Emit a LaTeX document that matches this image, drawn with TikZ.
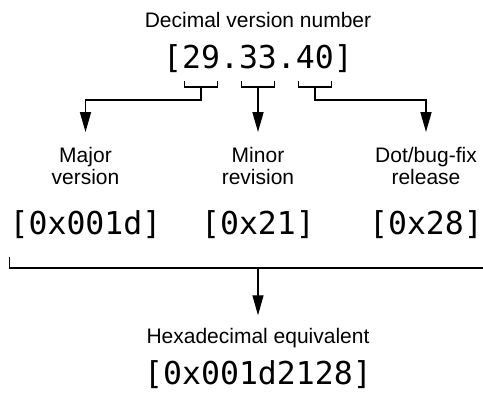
\documentclass[tikz,border=0pt]{standalone}
\usepackage{fontspec}
\setmainfont{Liberation Sans}
\newfontfamily\codefont{DejaVu Sans Mono}
\usetikzlibrary{arrows.meta,positioning}

\begin{document}
\begin{tikzpicture}[x=1pt,y=1pt,
    num/.style={font=\codefont\fontsize{31.5}{36}\selectfont,inner sep=0pt,outer sep=0pt},
    lbl/.style={font=\fontsize{21}{22}\selectfont,align=center,inner sep=0pt,outer sep=0pt},
    arr/.style={-{Triangle[length=20pt,width=11pt]}},
    line width=1.4pt]
  \useasboundingbox (0,0) rectangle (483,392);
  \clip (0,0) rectangle (483,392);

  % decimal number, one node per field
  \node[lbl,anchor=base] (title) at (258,364.5) {Decimal version number};
  \node[num,anchor=base] (d33) at (258,323.5) {33};
  \node[num,anchor=base east] (p1) at (d33.base west) {.};
  \node[num,anchor=base east] (d29) at (p1.base west) {29};
  \node[num,anchor=base east] (lb) at (d29.base west) {[};
  \node[num,anchor=base west] (p2) at (d33.base east) {.};
  \node[num,anchor=base west] (d40) at (p2.base east) {40};
  \node[num,anchor=base west] (rb) at (d40.base east) {]};

  % hex fields
  \node[num,anchor=base] (hexmaj) at (85.5,158) {[0x001d]};
  \node[num,anchor=base] (hexmin) at (258,158) {[0x21]};
  \node[num,anchor=base] (hexfix) at (426,158) {[0x28]};
  \node[lbl,above=49pt of hexmaj.base] (lmaj) {Major\\version};
  \node[lbl,above=49pt of hexmin.base] (lmin) {Minor\\revision};
  \node[lbl,above=49pt of hexfix.base] (lfix) {Dot/bug-fix\\release};

  % combined value
  \node[lbl,anchor=base] (hexlbl) at (258,49) {Hexadecimal equivalent};
  \node[num,anchor=base] (hexall) at (258,7.5) {[0x001d2128]};

  % small brackets under each field
  \foreach \g in {d29,d33,d40}
    \draw ([shift={(2.5,-12.5)}]\g.base west) -- ++(0,-6)
      -| ([shift={(-2.5,-12.5)}]\g.base east);

  \draw[arr] ([yshift=-18.5pt]d29.base) -- ++(0,-13) -| ([yshift=15.5pt]lmaj.north);
  \draw[arr] ([yshift=-18.5pt]d33.base) -- ([yshift=15.5pt]lmin.north);
  \draw[arr] ([yshift=-18.5pt]d40.base) -- ++(0,-13) -| ([yshift=15.5pt]lfix.north);

  % long bracket under the hex fields
  \draw ([yshift=-23pt]hexmaj.base west) -- ++(0,-11)
    -- ([yshift=-34pt]hexfix.base east);
  \draw[arr] ([yshift=-34pt]hexmin.base) -- ([yshift=12.5pt]hexlbl.north);
\end{tikzpicture}
\end{document}
